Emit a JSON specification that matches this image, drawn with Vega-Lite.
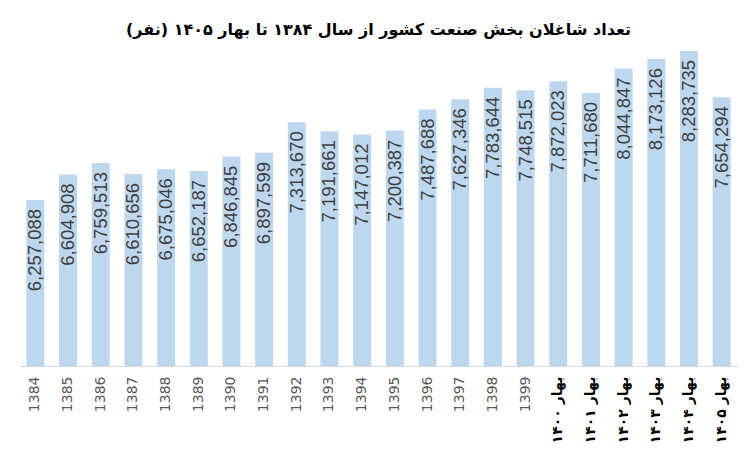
{
  "$schema": "https://vega.github.io/schema/vega-lite/v6.json",
  "width": 719,
  "height": 331,
  "autosize": {"type": "none"},
  "padding": {"left": 19, "top": 35, "right": 12, "bottom": 86},
  "background": "white",
  "title": {
    "text": "تعداد شاغلان بخش صنعت کشور از سال ۱۳۸۴ تا بهار ۱۴۰۵ (نفر)",
    "font": "DejaVu Sans",
    "fontSize": 16,
    "fontWeight": "bold",
    "color": "#000000",
    "anchor": "middle",
    "frame": "group",
    "offset": -3
  },
  "config": {"view": {"stroke": null}},
  "data": {
    "values": [
      {"label": "1384", "value": 6257088},
      {"label": "1385", "value": 6604908},
      {"label": "1386", "value": 6759513},
      {"label": "1387", "value": 6610656},
      {"label": "1388", "value": 6675046},
      {"label": "1389", "value": 6652187},
      {"label": "1390", "value": 6846845},
      {"label": "1391", "value": 6897599},
      {"label": "1392", "value": 7313670},
      {"label": "1393", "value": 7191661},
      {"label": "1394", "value": 7147012},
      {"label": "1395", "value": 7200387},
      {"label": "1396", "value": 7487688},
      {"label": "1397", "value": 7627346},
      {"label": "1398", "value": 7783644},
      {"label": "1399", "value": 7748515},
      {"label": "بهار ۱۴۰۰", "value": 7872023},
      {"label": "بهار ۱۴۰۱", "value": 7711680},
      {"label": "بهار ۱۴۰۲", "value": 8044847},
      {"label": "بهار ۱۴۰۳", "value": 8173126},
      {"label": "بهار ۱۴۰۴", "value": 8283735},
      {"label": "بهار ۱۴۰۵", "value": 7654294}
    ]
  },
  "encoding": {
    "x": {
      "field": "label",
      "type": "nominal",
      "sort": null,
      "scale": {"paddingInner": 0.45, "paddingOuter": 0.225},
      "axis": {
        "title": null,
        "labelAngle": -90,
        "labelPadding": 10,
        "ticks": false,
        "domainColor": "#d9d9d9",
        "domainWidth": 1,
        "labelFontSize": 14,
        "labelFont": "DejaVu Sans",
        "labelFontWeight": {"condition": {"test": "length(datum.label) > 4", "value": "bold"}, "value": "normal"},
        "labelColor": {"condition": {"test": "length(datum.label) > 4", "value": "#000000"}, "value": "#595959"}
      }
    },
    "y": {
      "field": "value",
      "type": "quantitative",
      "scale": {"domain": [4000000, 8500000], "nice": false, "zero": false},
      "axis": null
    }
  },
  "layer": [
    {"mark": {"type": "bar", "color": "#bdd7ee", "clip": true}},
    {
      "mark": {
        "type": "text",
        "angle": -90,
        "align": "right",
        "baseline": "middle",
        "dx": -9,
        "font": "Liberation Sans",
        "fontSize": 18.5,
        "color": "#404040"
      },
      "encoding": {"text": {"field": "value", "type": "quantitative", "format": ",d"}}
    }
  ]
}
